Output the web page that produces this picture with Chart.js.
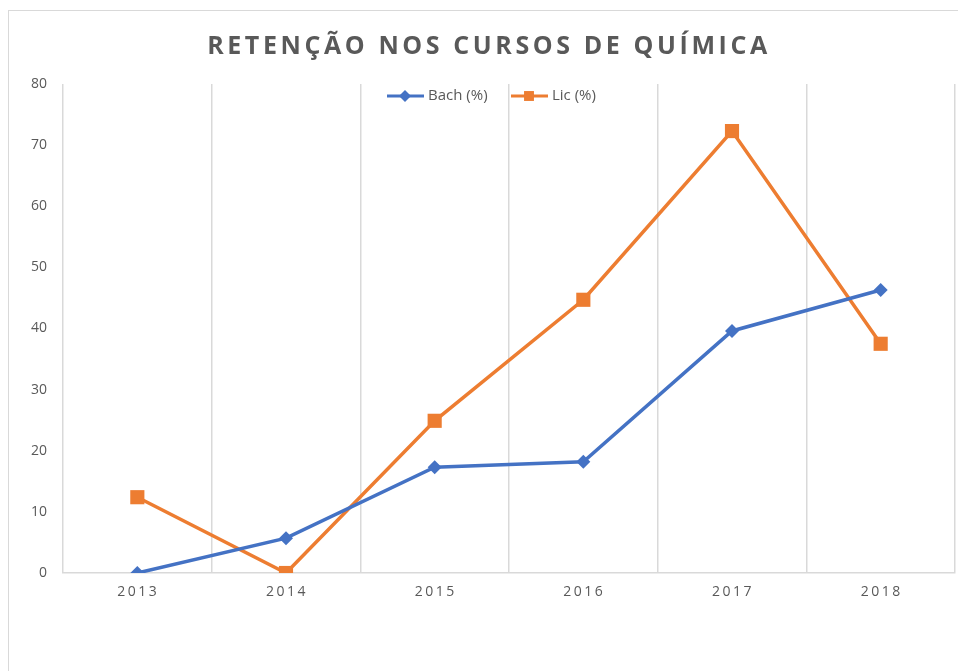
<!DOCTYPE html>
<html>
<head>
<meta charset="utf-8">
<script src="https://cdn.jsdelivr.net/npm/chart.js@4"></script>
<style>
  body { margin: 0; background: #fff; overflow: hidden; }
  #wrap { position: absolute; left: 8px; top: 10px; width: 960px; height: 680px; border: 1px solid #d9d9d9; }
</style>
</head>
<body>
<div id="wrap"><canvas id="myChart"></canvas></div>
<script>
const years = ['2013', '2014', '2015', '2016', '2017', '2018'];
const bachValues = [0, 5.7, 17.3, 18.2, 39.6, 46.3];
const licValues = [12.4, 0, 24.9, 44.7, 72.3, 37.5];
const yTicks = [0, 10, 20, 30, 40, 50, 60, 70, 80];

const textGray = '#595959';
const fontFam = '"Open Sans", "Noto Sans", sans-serif';

// title, legend and spaced x labels drawn on the canvas
const extras = {
  id: 'extras',
  afterDraw(chart) {
    const ctx = chart.ctx;
    const area = chart.chartArea;
    ctx.save();
    // title
    ctx.font = 'bold 25px ' + fontFam;
    ctx.fillStyle = textGray;
    ctx.letterSpacing = '3.6px';
    ctx.textAlign = 'center';
    ctx.textBaseline = 'middle';
    ctx.fillText('RETENÇÃO NOS CURSOS DE QUÍMICA', 480, 36);

    // x labels
    ctx.font = '14px ' + fontFam;
    ctx.letterSpacing = '2.5px';
    const xs = chart.scales.x;
    years.forEach((y, i) => {
      ctx.fillText(y, xs.getPixelForTick(i) + 1, area.bottom + 19);
    });

    // legend
    ctx.letterSpacing = '0px';
    ctx.textAlign = 'left';
    ctx.font = '15px ' + fontFam;
    const items = [
      { label: 'Bach (%)', color: '#4472C4', x: 378, shape: 'rectRot', r: 6 },
      { label: 'Lic (%)', color: '#ED7D31', x: 502, shape: 'rect', r: 7 }
    ];
    const ly = 85;
    items.forEach(it => {
      ctx.strokeStyle = it.color;
      ctx.lineWidth = 3;
      ctx.beginPath();
      ctx.moveTo(it.x, ly);
      ctx.lineTo(it.x + 37, ly);
      ctx.stroke();
      ctx.fillStyle = it.color;
      Chart.helpers.drawPoint(ctx, { pointStyle: it.shape, radius: it.r, borderWidth: 0 }, it.x + 18, ly);
      ctx.fillStyle = textGray;
      ctx.fillText(it.label, it.x + 41, ly);
    });
    ctx.restore();
  }
};

new Chart('myChart', {
  type: 'line',
  data: {
    labels: years,
    datasets: [
      {
        label: 'Bach (%)',
        data: bachValues,
        borderColor: '#4472C4',
        backgroundColor: '#4472C4',
        borderWidth: 3.5,
        pointStyle: 'rectRot',
        pointRadius: 7,
        pointBorderWidth: 0,
        tension: 0
      },
      {
        label: 'Lic (%)',
        data: licValues,
        borderColor: '#ED7D31',
        backgroundColor: '#ED7D31',
        borderWidth: 3.5,
        pointStyle: 'rect',
        pointRadius: 10,
        pointBorderWidth: 0,
        tension: 0
      }
    ]
  },
  options: {
    responsive: true,
    maintainAspectRatio: false,
    animation: false,
    layout: { padding: { top: 73, right: 14, bottom: 78, left: 0 } },
    plugins: {
      legend: { display: false },
      title: { display: false },
      tooltip: { enabled: false }
    },
    scales: {
      x: {
        offset: true,
        grid: { offset: true, color: '#d9d9d9', lineWidth: 1.5, drawTicks: false },
        border: { color: '#d9d9d9', width: 1.5 },
        ticks: { display: false },
        afterFit: s => { s.height = 40; }
      },
      y: {
        min: 0,
        max: 80,
        afterBuildTicks: s => { s.ticks = yTicks.map(v => ({ value: v })); },
        grid: { display: false, drawTicks: false },
        border: { display: false },
        ticks: { color: textGray, font: { size: 14, family: fontFam }, padding: 16 },
        afterFit: s => { s.width = 54; }
      }
    }
  },
  plugins: [extras]
});
</script>
</body>
</html>
